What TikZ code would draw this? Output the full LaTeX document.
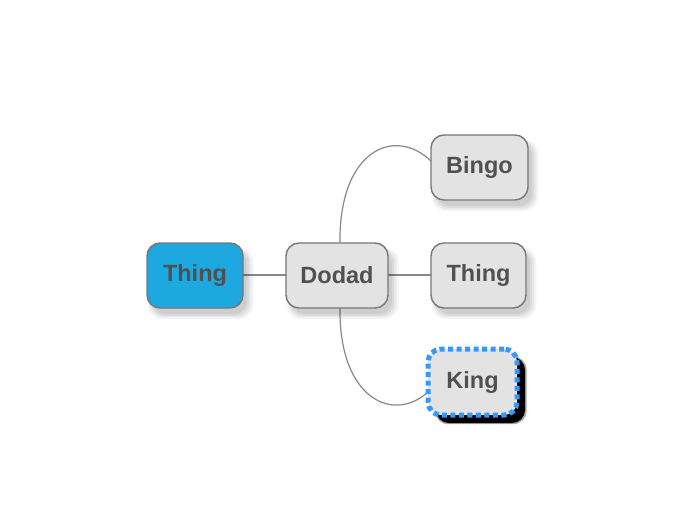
\documentclass[tikz,border=0pt]{standalone}
\usepackage{fontspec}
\setmainfont{Liberation Sans}
\usetikzlibrary{shadows}
\definecolor{boxfill}{HTML}{E3E3E3}
\definecolor{boxline}{HTML}{777777}
\definecolor{txt}{HTML}{505050}
\definecolor{rootblue}{HTML}{1DA8E0}
\definecolor{dotblue}{HTML}{3399FF}
\definecolor{linkgray}{HTML}{888888}
\begin{document}
\begin{tikzpicture}[x=1pt,y=-1pt,
  softshadow/.style={
    general shadow={shadow xshift=5pt,shadow yshift=-7pt,shadow scale=1.10,fill=black,opacity=0.04},
    general shadow={shadow xshift=5pt,shadow yshift=-7pt,shadow scale=1.06,fill=black,opacity=0.05},
    general shadow={shadow xshift=5pt,shadow yshift=-7pt,shadow scale=1.02,fill=black,opacity=0.06},
    general shadow={shadow xshift=5pt,shadow yshift=-7pt,shadow scale=0.98,fill=black,opacity=0.06}},
  topic/.style={draw=boxline,line width=1.4pt,fill=boxfill,rounded corners=13pt,
    minimum height=65pt,inner sep=0pt,text=txt,font=\fontsize{23.5}{26}\selectfont\bfseries,
    softshadow},
  link/.style={draw=linkgray,line width=1.2pt}]
\useasboundingbox (0,0) rectangle (692,530);
\draw[link] (195,275) -- (337,275);
\draw[link] (337,275) -- (478,275);
\draw[link] (340,245) .. controls (338,150) and (395,125) .. (432,162);
\draw[link] (340,306) .. controls (338,400) and (395,425) .. (430,390);
\node[topic,fill=rootblue,minimum width=96pt] (root) at (195,275.5) {Thing};
\node[topic,minimum width=102pt] (dodad) at (337,275.5) {Dodad};
\node[topic,minimum width=97pt] (bingo) at (479.5,167.5) {Bingo};
\node[topic,minimum width=95pt] (thing) at (478.5,275.5) {Thing};
\node[draw=dotblue,line width=5pt,fill=boxfill,rounded corners=13pt,
  minimum width=89pt,minimum height=66pt,inner sep=0pt,text=txt,
  font=\fontsize{23.5}{26}\selectfont\bfseries,
  dash pattern=on 5pt off 3.5pt,
  general shadow={shadow xshift=8pt,shadow yshift=-8pt,shadow scale=1.03,fill=black,opacity=0.35},
  general shadow={shadow xshift=8pt,shadow yshift=-8pt,fill=black,opacity=1}] (king) at (472.5,382) {King};
\end{tikzpicture}
\end{document}
